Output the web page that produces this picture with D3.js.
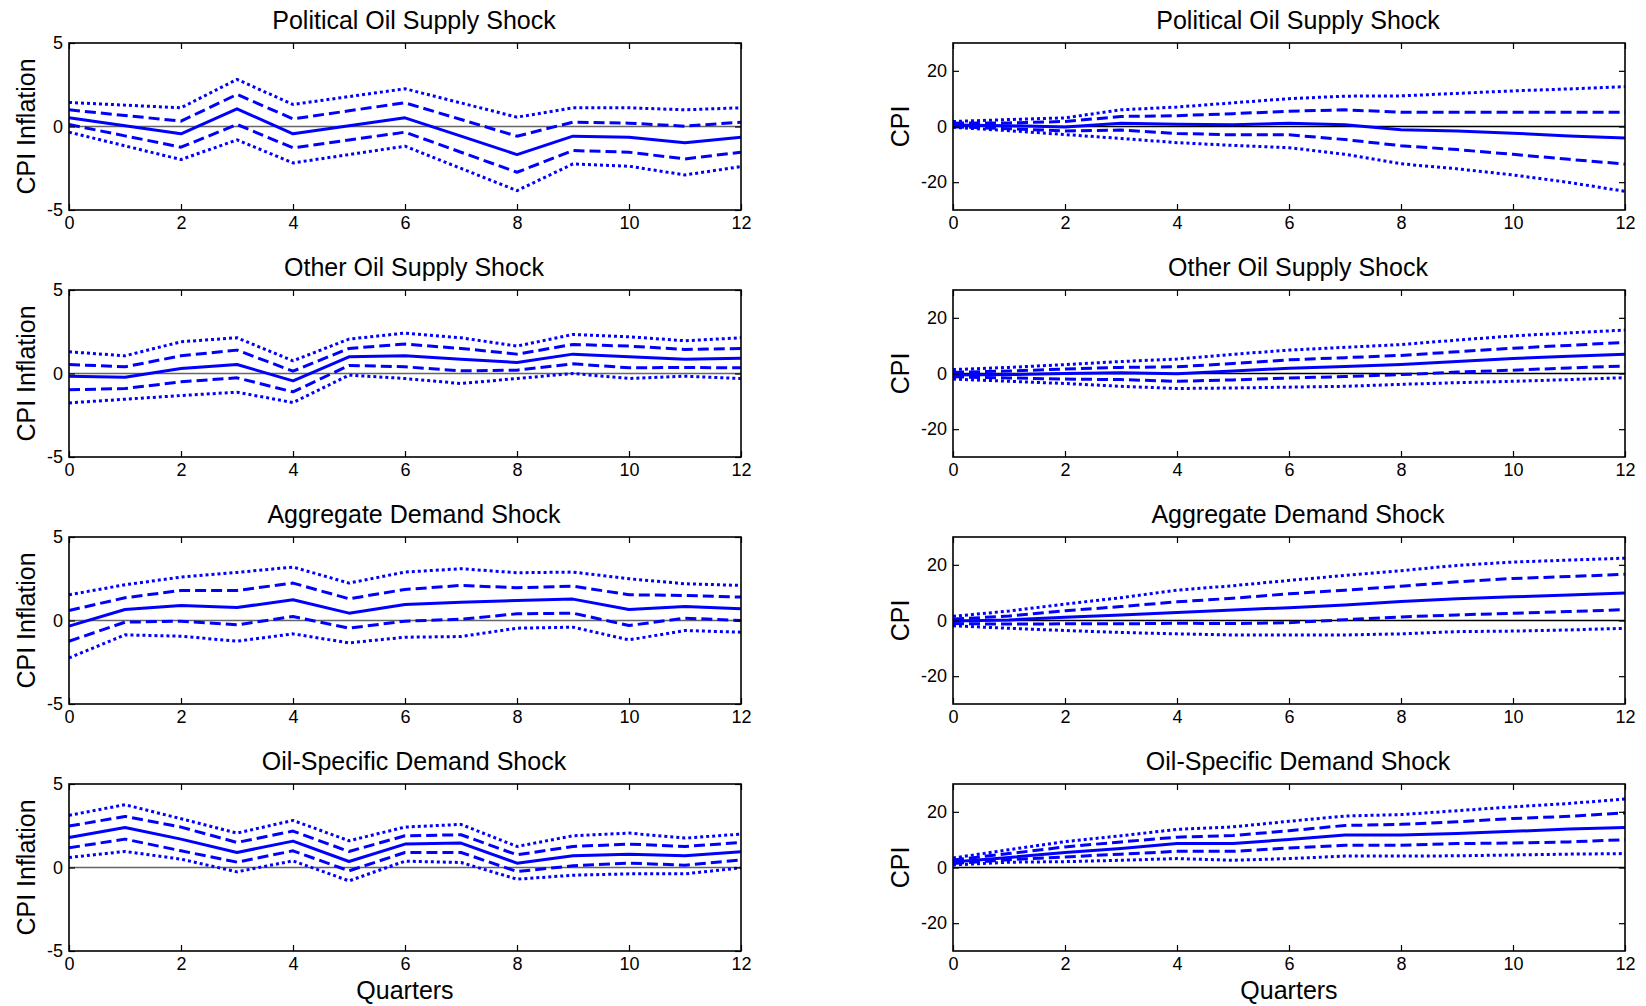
<!DOCTYPE html>
<html>
<head>
<meta charset="utf-8">
<script src="https://cdn.jsdelivr.net/npm/d3@7"></script>
<style>
  body { margin: 0; background: #fff; }
  text { font-family: "Liberation Sans", Arial, sans-serif; fill: #000; }
</style>
</head>
<body>
<svg id="chart"></svg>
<script>
const width = 1646;
const height = 1006;

const quarters = d3.range(0, 13);
const xTicks = [0, 2, 4, 6, 8, 10, 12];
const inflTicks = [-5, 0, 5];
const cpiTicks = [-20, 0, 20];
const titles = ['Political Oil Supply Shock', 'Other Oil Supply Shock',
  'Aggregate Demand Shock', 'Oil-Specific Demand Shock'];

// rows: lower 95, lower 68, median, upper 68, upper 95
const polInfl = [
  [-0.34, -1.16, -1.98, -0.8, -2.18, -1.68, -1.18, -2.51, -3.84, -2.24, -2.38, -2.9, -2.4],
  [0.12, -0.56, -1.24, 0.12, -1.28, -0.81, -0.34, -1.54, -2.74, -1.44, -1.54, -1.94, -1.54],
  [0.52, 0.04, -0.44, 1.06, -0.44, 0.04, 0.52, -0.58, -1.68, -0.58, -0.64, -0.98, -0.64],
  [1.0, 0.66, 0.32, 1.92, 0.46, 0.94, 1.42, 0.42, -0.58, 0.26, 0.2, 0.02, 0.26],
  [1.44, 1.28, 1.12, 2.82, 1.32, 1.79, 2.26, 1.41, 0.56, 1.12, 1.12, 1.0, 1.12]
];
const othInfl = [
  [-1.76, -1.54, -1.32, -1.12, -1.74, -0.1, -0.3, -0.6, -0.3, 0, -0.3, -0.16, -0.3],
  [-0.98, -0.9, -0.5, -0.26, -1.1, 0.48, 0.4, 0.16, 0.2, 0.58, 0.34, 0.36, 0.34],
  [-0.16, -0.22, 0.3, 0.54, -0.44, 1.0, 1.06, 0.86, 0.66, 1.16, 1.0, 0.86, 0.92],
  [0.54, 0.4, 1.06, 1.4, 0.14, 1.5, 1.76, 1.5, 1.16, 1.74, 1.64, 1.44, 1.5],
  [1.3, 1.06, 1.9, 2.14, 0.76, 2.06, 2.42, 2.14, 1.64, 2.34, 2.2, 1.96, 2.14]
];
const adInfl = [
  [-2.24, -0.86, -0.94, -1.24, -0.8, -1.34, -1.0, -0.96, -0.46, -0.4, -1.16, -0.6, -0.7],
  [-1.24, -0.1, -0.04, -0.26, 0.24, -0.46, -0.04, 0.08, 0.4, 0.44, -0.3, 0.14, 0],
  [-0.34, 0.66, 0.9, 0.78, 1.24, 0.44, 0.96, 1.1, 1.2, 1.28, 0.66, 0.84, 0.7],
  [0.6, 1.36, 1.8, 1.8, 2.24, 1.3, 1.86, 2.1, 1.96, 2.06, 1.54, 1.5, 1.4],
  [1.54, 2.14, 2.6, 2.88, 3.2, 2.24, 2.9, 3.1, 2.86, 2.9, 2.5, 2.2, 2.1]
];
const osInfl = [
  [0.6, 0.96, 0.5, -0.26, 0.4, -0.8, 0.38, 0.3, -0.7, -0.46, -0.38, -0.38, -0.02],
  [1.18, 1.7, 1.0, 0.32, 1.0, -0.2, 0.9, 0.9, -0.24, 0.1, 0.26, 0.14, 0.46],
  [1.8, 2.4, 1.7, 0.9, 1.58, 0.36, 1.4, 1.46, 0.26, 0.7, 0.8, 0.7, 0.94],
  [2.48, 3.06, 2.42, 1.5, 2.18, 0.96, 1.9, 1.96, 0.76, 1.26, 1.4, 1.26, 1.5],
  [3.12, 3.76, 2.92, 2.06, 2.82, 1.6, 2.42, 2.58, 1.26, 1.9, 2.06, 1.76, 2.0]
];
const polCpi = [
  [-0.3, -1.5, -2.9, -4.3, -5.8, -6.8, -7.6, -10.0, -13.4, -15.2, -17.4, -20.1, -23.3],
  [-0.1, -0.8, -1.6, -1.3, -2.5, -3.0, -3.0, -4.7, -6.9, -8.3, -10.0, -11.8, -13.5],
  [0.5, 0.3, -0.2, 1.2, 0.8, 0.6, 1.2, 0.6, -1.2, -1.6, -2.4, -3.4, -4.1],
  [1.2, 1.3, 1.8, 3.6, 3.9, 4.6, 5.5, 6.0, 5.1, 5.1, 5.1, 5.1, 5.1],
  [1.8, 2.5, 3.1, 6.0, 7.0, 8.5, 10.0, 10.9, 11.0, 11.9, 12.8, 13.5, 14.3]
];
const othCpi = [
  [-2.0, -2.8, -3.6, -4.6, -5.4, -5.2, -4.9, -4.6, -3.9, -3.3, -2.8, -2.2, -1.5],
  [-1.2, -1.6, -2.0, -2.2, -2.8, -2.3, -1.6, -1.1, -0.4, 0.5, 1.2, 2.0, 2.7],
  [-0.5, -0.4, 0.0, 0.3, -0.1, 0.9, 1.9, 2.5, 3.2, 4.3, 5.4, 6.2, 6.9],
  [0.4, 0.9, 1.6, 2.2, 2.4, 3.6, 4.9, 5.7, 6.5, 7.8, 9.1, 10.1, 11.2],
  [1.4, 2.2, 3.2, 4.3, 5.2, 6.9, 8.4, 9.4, 10.4, 12.0, 13.5, 14.6, 15.6]
];
const adCpi = [
  [-1.9, -2.8, -3.6, -4.3, -4.8, -5.2, -5.2, -5.2, -4.8, -4.0, -3.8, -3.4, -2.8],
  [-1.1, -1.3, -1.2, -1.2, -1.0, -1.1, -0.8, 0.3, 1.3, 2.0, 2.6, 3.2, 3.9],
  [-0.2, 0.2, 1.2, 2.0, 2.9, 3.8, 4.6, 5.6, 6.8, 7.8, 8.5, 9.2, 9.9],
  [0.5, 1.6, 3.5, 5.0, 6.7, 8.0, 9.6, 10.9, 12.3, 13.9, 15.1, 15.8, 16.6],
  [1.5, 3.4, 5.9, 8.2, 10.9, 12.5, 14.4, 16.2, 17.9, 19.8, 21.0, 21.7, 22.4]
];
const osCpi = [
  [0.9, 1.9, 2.1, 2.6, 3.2, 2.6, 3.2, 4.1, 4.1, 4.2, 4.5, 4.8, 5.0],
  [1.4, 2.8, 3.8, 4.8, 5.8, 5.8, 7.0, 8.0, 8.0, 8.6, 8.8, 9.2, 10.0],
  [2.0, 3.6, 5.4, 6.8, 8.6, 8.6, 10.1, 11.7, 11.7, 12.2, 13.0, 13.8, 14.4],
  [2.7, 5.0, 7.4, 9.2, 10.9, 11.5, 13.2, 15.1, 15.5, 16.4, 17.6, 18.4, 19.6],
  [3.4, 6.4, 9.3, 11.4, 13.7, 14.6, 16.6, 18.5, 19.0, 20.4, 21.8, 23.0, 24.6]
];

const inflData = [polInfl, othInfl, adInfl, osInfl];
const cpiData = [polCpi, othCpi, adCpi, osCpi];

const lineStyles = ['3,3', '11,5', null, '11,5', '3,3'];

const svg = d3.select('#chart').attr('width', width).attr('height', height);
svg.append('rect').attr('width', width).attr('height', height).attr('fill', '#fff');

const plotW = 672;
const plotH = 167;
const rowTops = [43, 290, 537, 784];
const colLefts = [69, 953];

function drawPanel(left, top, rows, domain, yTicks, title, yLabel, zeroColor, lastRow) {
  const g = svg.append('g').attr('transform', `translate(${left},${top})`);
  const x = d3.scaleLinear().domain([0, 12]).range([0, plotW]);
  const y = d3.scaleLinear().domain(domain).range([plotH, 0]);

  // zero line
  g.append('line')
    .attr('x1', 0).attr('x2', plotW)
    .attr('y1', y(0)).attr('y2', y(0))
    .attr('stroke', zeroColor).attr('stroke-width', 1.4);

  const line = d3.line().x((d, i) => x(quarters[i])).y(d => y(d));
  g.selectAll('.irf')
    .data(rows)
    .enter().append('path')
    .attr('class', 'irf')
    .attr('d', line)
    .attr('fill', 'none')
    .attr('stroke', '#0000ff')
    .attr('stroke-width', 3)
    .attr('stroke-linejoin', 'round')
    .attr('stroke-dasharray', (d, i) => lineStyles[i]);

  // axes, ticks pointing inward; plain hyphen for negatives
  const fmt = d => String(d);
  const axB = g.append('g').attr('transform', `translate(0,${plotH})`)
    .call(d3.axisBottom(x).tickValues(xTicks).tickSizeInner(-6).tickSizeOuter(0).tickPadding(6).tickFormat(fmt));
  const axT = g.append('g')
    .call(d3.axisTop(x).tickValues(xTicks).tickSizeInner(-6).tickSizeOuter(0).tickFormat(''));
  const axL = g.append('g')
    .call(d3.axisLeft(y).tickValues(yTicks).tickSizeInner(-6).tickSizeOuter(0).tickPadding(6).tickFormat(fmt));
  const axR = g.append('g').attr('transform', `translate(${plotW},0)`)
    .call(d3.axisRight(y).tickValues(yTicks).tickSizeInner(-6).tickSizeOuter(0).tickFormat(''));

  [axB, axT, axL, axR].forEach(a => {
    a.select('.domain').remove();
    a.selectAll('line').attr('stroke', '#000').attr('stroke-width', 1.2);
    a.selectAll('text').style('font-size', '18px').style('font-family', '"Liberation Sans", Arial, sans-serif');
  });

  g.append('rect')
    .attr('width', plotW).attr('height', plotH)
    .attr('fill', 'none').attr('stroke', '#000').attr('stroke-width', 1.6);

  g.append('text')
    .attr('x', plotW / 2 + 9).attr('y', -14)
    .attr('text-anchor', 'middle')
    .style('font-size', '25px')
    .text(title);

  const labelX = yLabel === 'CPI' ? -53 : -43;
  g.append('text')
    .attr('transform', `translate(${labelX},${plotH / 2}) rotate(-90)`)
    .attr('text-anchor', 'middle')
    .attr('dominant-baseline', 'central')
    .style('font-size', '25px')
    .text(yLabel);

  if (lastRow) {
    g.append('text')
      .attr('x', plotW / 2).attr('y', plotH + 48)
      .attr('text-anchor', 'middle')
      .style('font-size', '25px')
      .text('Quarters');
  }
}

titles.forEach((t, r) => {
  drawPanel(colLefts[0], rowTops[r], inflData[r], [-5, 5], inflTicks, t, 'CPI Inflation', '#666', r === 3);
  drawPanel(colLefts[1], rowTops[r], cpiData[r], [-30, 30], cpiTicks, t, 'CPI', '#000', r === 3);
});
</script>
</body>
</html>
